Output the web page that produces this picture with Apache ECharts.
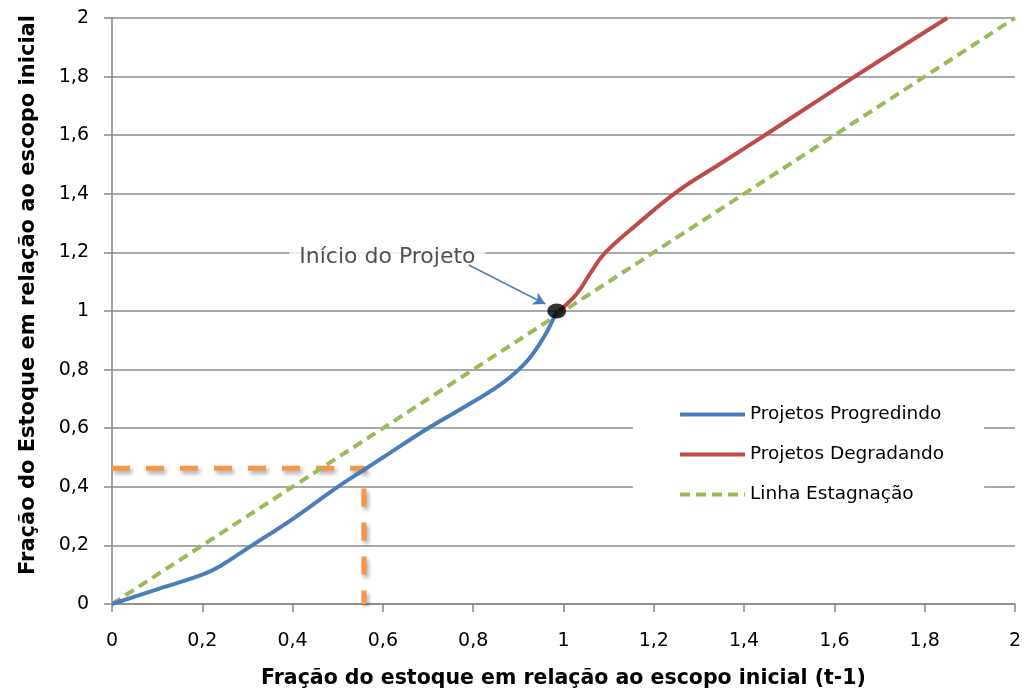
<!DOCTYPE html>
<html>
<head>
<meta charset="utf-8">
<script src="https://cdn.jsdelivr.net/npm/echarts@6/dist/echarts.min.js"></script>
<style>
  html, body { margin: 0; padding: 0; background: #ffffff; }
  #chart { width: 1024px; height: 694px; }
</style>
</head>
<body>
<div id="chart"></div>
<script>
// ---- data ----
const xTitle = 'Fração do estoque em relação ao escopo inicial (t-1)';
const yTitle = 'Fração do Estoque em relação ao escopo inicial';
const seriesNames = ['Projetos Progredindo', 'Projetos Degradando', 'Linha Estagnação'];

const progredindo = [
  [0, 0], [0.1, 0.05], [0.2, 0.1], [0.24, 0.13], [0.3, 0.19], [0.4, 0.29],
  [0.5, 0.4], [0.56, 0.46], [0.6, 0.5], [0.7, 0.6], [0.8, 0.69], [0.87, 0.76],
  [0.92, 0.83], [0.96, 0.92], [0.985, 1.0]
];
const degradando = [
  [0.99, 1.0], [1.03, 1.06], [1.06, 1.13], [1.093, 1.2], [1.166, 1.3],
  [1.254, 1.41], [1.35, 1.505], [1.446, 1.6], [1.645, 1.8], [1.85, 2.0]
];
const estagnacao = [[0, 0], [2, 2]];
const referencia = [[0, 0.463], [0.558, 0.463], [0.558, 0.0]];

const inicioPonto = [[0.985, 1.0]];
const anotacaoTexto = 'Início do Projeto';
const anotacaoPos = [[0.61, 1.184]];
const setaInicio = [0.79, 1.157];
const setaFim = [0.96, 1.024];

const axisMin = 0, axisMax = 2, axisStep = 0.2;

// ---- chart ----
const fmt = v => String(+(+v).toFixed(1)).replace('.', ',');
const FONT = 'DejaVu Sans';

const chart = echarts.init(document.getElementById('chart'));
chart.setOption({
  animation: false,
  backgroundColor: '#ffffff',
  textStyle: { fontFamily: FONT },
  grid: { left: 112, right: 6, top: 18, bottom: 90, containLabel: false },
  legend: {
    data: seriesNames,
    orient: 'vertical',
    left: 633,
    top: 393,
    backgroundColor: '#ffffff',
    padding: [12, 40, 14, 45],
    itemWidth: 65,
    itemHeight: 14,
    itemGap: 21,
    itemStyle: { opacity: 0 },
    lineStyle: { width: 4 },
    textStyle: { fontFamily: FONT, fontSize: 18.5, color: '#000000' }
  },
  xAxis: {
    type: 'value',
    min: axisMin, max: axisMax, interval: axisStep,
    name: xTitle,
    nameLocation: 'middle',
    nameGap: 64,
    nameTextStyle: { fontFamily: FONT, fontSize: 20.5, fontWeight: 'bold', color: '#000000' },
    axisLine: { show: true, lineStyle: { color: '#868686', width: 1.5 } },
    axisTick: { show: true, length: 8, lineStyle: { color: '#868686', width: 1.5 } },
    axisLabel: { formatter: fmt, fontSize: 19, color: '#000000', margin: 28, fontFamily: FONT },
    splitLine: { show: false }
  },
  yAxis: {
    type: 'value',
    min: axisMin, max: axisMax, interval: axisStep,
    name: yTitle,
    nameLocation: 'middle',
    nameGap: 73,
    nameTextStyle: { fontFamily: FONT, fontSize: 21, fontWeight: 'bold', color: '#000000', padding: [0, 0, 0, 32] },
    axisLine: { show: true, lineStyle: { color: '#868686', width: 1.5 } },
    axisTick: { show: true, length: 8, lineStyle: { color: '#868686', width: 1.5 } },
    axisLabel: { formatter: fmt, fontSize: 19, color: '#000000', margin: 23, fontFamily: FONT },
    splitLine: { show: true, lineStyle: { color: '#8c8c8c', width: 1.5 } }
  },
  series: [
    {
      name: 'referencia',
      type: 'line',
      data: referencia,
      showSymbol: false,
      symbol: 'none',
      z: 1,
      lineStyle: {
        color: '#F79646', width: 5, type: [18, 16],
        shadowColor: 'rgba(0,0,0,0.35)', shadowBlur: 4, shadowOffsetY: 3, shadowOffsetX: 2
      }
    },
    {
      name: seriesNames[2],
      type: 'line',
      data: estagnacao,
      showSymbol: false,
      symbol: 'none',
      z: 2,
      itemStyle: { color: '#9BBB59' },
      lineStyle: { color: '#9BBB59', width: 4, type: [10, 6] }
    },
    {
      name: seriesNames[0],
      type: 'line',
      data: progredindo,
      smooth: 0.4,
      showSymbol: false,
      symbol: 'none',
      z: 3,
      itemStyle: { color: '#4A7EBB' },
      lineStyle: { color: '#4A7EBB', width: 4 }
    },
    {
      name: seriesNames[1],
      type: 'line',
      data: degradando,
      smooth: 0.4,
      showSymbol: false,
      symbol: 'none',
      z: 3,
      itemStyle: { color: '#BE4B48' },
      lineStyle: { color: '#BE4B48', width: 4 }
    },
    {
      name: 'inicio',
      type: 'scatter',
      data: inicioPonto,
      symbol: 'circle',
      symbolSize: [19, 15],
      z: 5,
      itemStyle: { color: '#000000' },
      silent: true,
      markLine: {
        silent: true,
        symbol: ['none', 'arrow'],
        symbolSize: [10, 12],
        label: { show: false },
        lineStyle: { color: '#4A7EBB', width: 1.5, type: 'solid' },
        data: [[{ coord: setaInicio }, { coord: setaFim }]]
      }
    },
    {
      name: 'anotacao',
      type: 'scatter',
      data: anotacaoPos,
      symbolSize: 1,
      itemStyle: { color: 'rgba(255,255,255,0)' },
      z: 4,
      silent: true,
      label: {
        show: true,
        position: 'inside',
        formatter: anotacaoTexto,
        fontFamily: FONT,
        fontSize: 22,
        color: '#262626',
        backgroundColor: '#ffffff',
        padding: [3, 10]
      }
    }
  ]
});
</script>
</body>
</html>
